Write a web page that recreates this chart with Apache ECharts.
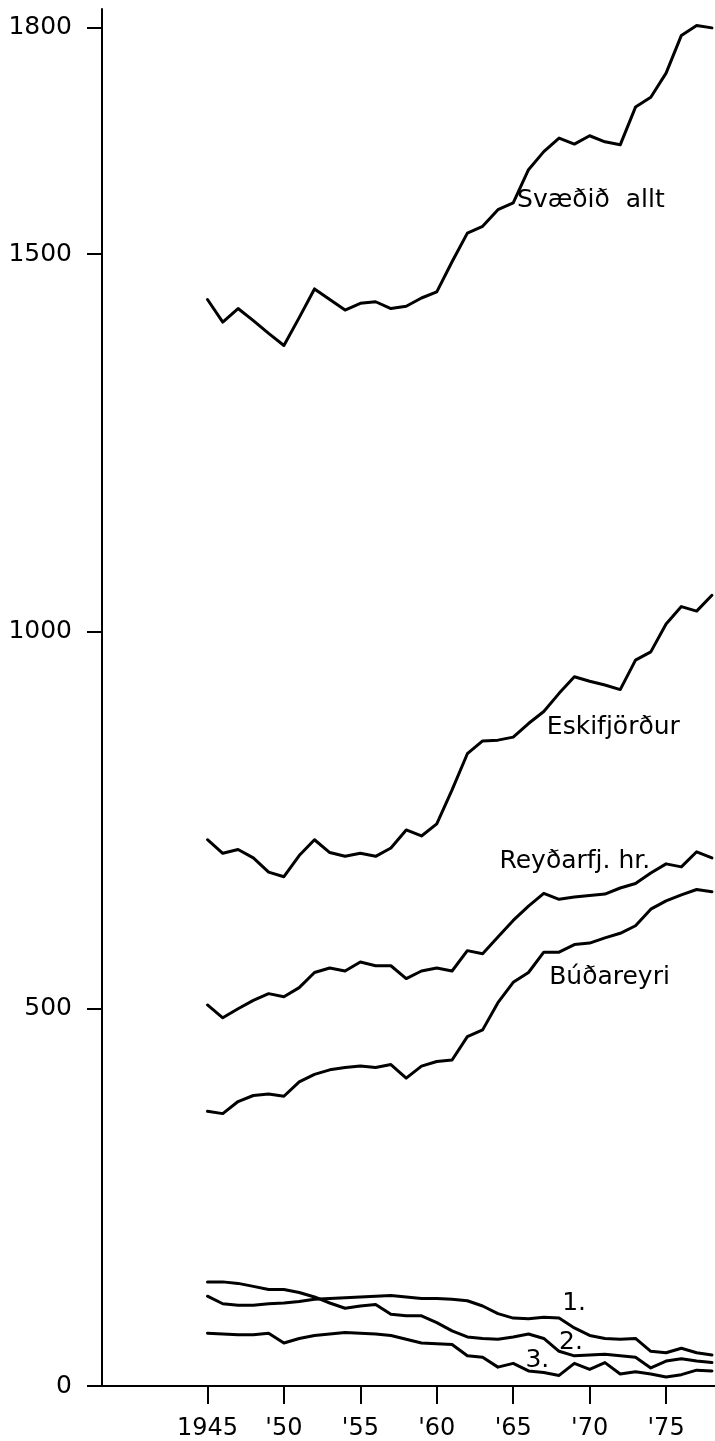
<!DOCTYPE html>
<html>
<head>
<meta charset="utf-8">
<script src="https://cdn.jsdelivr.net/npm/echarts@6/dist/echarts.min.js"></script>
<style>
html,body{margin:0;padding:0;background:#fff;}
#main{width:715px;height:1441px;}
</style>
</head>
<body>
<div id="main"></div>
<script>
// ár (1945-1978)
var years = [1945,1946,1947,1948,1949,1950,1951,1952,1953,1954,1955,1956,1957,1958,1959,1960,1961,
             1962,1963,1964,1965,1966,1967,1968,1969,1970,1971,1972,1973,1974,1975,1976,1977,1978];

// íbúafjöldi
var svaedid     = [1440,1410,1428,1412,1395,1379,1416,1454,1440,1426,1435,1437,1428,1431,1442,1450,1490,
                   1528,1537,1559,1568,1612,1636,1654,1646,1657,1649,1645,1695,1708,1740,1790,1803,1800];
var eskifjordur = [724,706,711,700,681,675,703,724,707,702,706,702,713,737,729,745,790,
                   838,855,856,860,878,894,918,940,934,929,923,962,973,1010,1033,1027,1048];
var reydarfj    = [505,488,500,511,520,516,528,548,554,550,562,557,557,540,550,554,550,
                   577,573,595,617,636,653,645,648,650,652,660,666,680,692,688,708,700];
var budareyri   = [364,361,377,385,387,384,403,413,419,422,424,422,426,408,424,430,432,
                   463,472,508,535,548,575,575,585,587,594,600,610,632,643,651,658,655];
var hreppur1    = [119,109,107,107,109,110,112,115,116,117,118,119,120,118,116,116,115,
                   113,106,96,90,89,91,90,77,67,63,62,63,46,44,50,44,41];
var hreppur2    = [138,138,136,132,128,128,124,118,110,103,106,108,95,93,93,84,73,
                   65,63,62,65,69,63,46,40,41,42,40,38,24,33,36,33,31];
var hreppur3    = [70,69,68,68,70,57,63,67,69,71,70,69,67,62,57,56,55,
                   40,38,25,30,20,18,14,30,22,31,16,19,16,12,15,21,20];

var xTicks = [1945,1950,1955,1960,1965,1970,1975];
var yTicks = [0,500,1000,1500,1800];

var font = 'DejaVu Sans';

function pairs(vals){
	return years.map(function(y,i){ return [y, vals[i]]; });
}

function lineSeries(name, vals, label, coord){
	var s = {
		name: name,
		type: 'line',
		data: pairs(vals),
		showSymbol: false,
		symbol: 'none',
		lineStyle: {color:'#000', width:3, cap:'round', join:'round'},
		animation: false
	};
	if(label){
		s.markPoint = {
			symbol: 'circle',
			symbolSize: 0,
			animation: false,
			data: [{coord: coord}],
			label: {show:true, position:'right', distance:0, formatter: label,
				color:'#000', fontSize:25, fontFamily:font}
		};
	}
	return s;
}

var chart = echarts.init(document.getElementById('main'));
chart.setOption({
	backgroundColor: '#fff',
	animation: false,
	grid: {left:102, right:0, top:9, bottom:54},
	xAxis: {
		type: 'value',
		min: 1938.1,
		max: 1978.2,
		splitLine: {show:false},
		axisLine: {show:true, lineStyle:{color:'#000', width:2}},
		axisTick: {show:true, customValues: xTicks, length:18, lineStyle:{color:'#000', width:2}},
		axisLabel: {
			customValues: xTicks, margin:31, color:'#000', fontSize:24, fontFamily:font,
			formatter: function(v){ return v == 1945 ? '1945' : "'" + String(v).slice(2); }
		}
	},
	yAxis: {
		type: 'value',
		min: 0,
		max: 1825,
		splitLine: {show:false},
		axisLine: {show:true, lineStyle:{color:'#000', width:2}},
		axisTick: {show:true, customValues: yTicks, length:15, lineStyle:{color:'#000', width:2}},
		axisLabel: {customValues: yTicks, margin:30, color:'#000', fontSize:25, fontFamily:font,
			formatter: function(v){ return String(v); }}
	},
	series: [
		lineSeries('Svæðið allt', svaedid, 'Svæðið  allt', [1965.25, 1571]),
		lineSeries('Eskifjörður', eskifjordur, 'Eskifjörður', [1967.2, 873]),
		lineSeries('Reyðarfj. hr.', reydarfj, 'Reyðarfj. hr.', [1964.1, 695]),
		lineSeries('Búðareyri', budareyri, 'Búðareyri', [1967.35, 542]),
		lineSeries('1.', hreppur1, '1.', [1968.2, 110]),
		lineSeries('2.', hreppur2, '2.', [1968.0, 57]),
		lineSeries('3.', hreppur3, '3.', [1965.8, 34])
	]
});
</script>
</body>
</html>
